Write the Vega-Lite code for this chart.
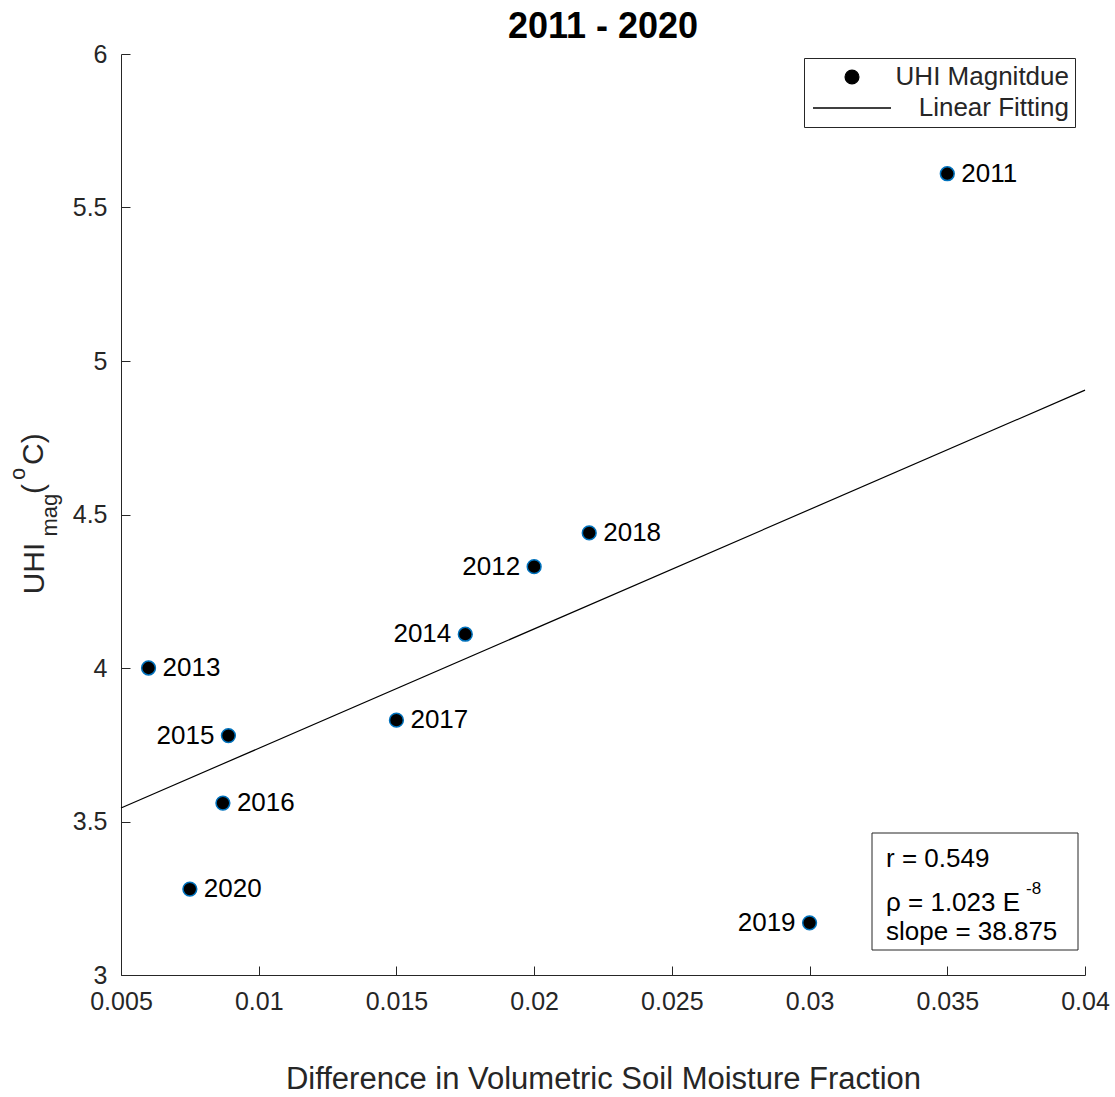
{
  "$schema": "https://vega.github.io/schema/vega-lite/v6.json",
  "width": 964,
  "height": 921,
  "autosize": {"type": "none"},
  "padding": {"left": 121, "top": 54, "right": 30, "bottom": 122},
  "background": "white",
  "title": {
    "text": "2011 - 2020",
    "font": "Liberation Sans",
    "fontSize": 36,
    "fontWeight": "bold",
    "color": "#000000",
    "anchor": "middle",
    "offset": -4
  },
  "config": {
    "view": {"stroke": null},
    "font": "Liberation Sans",
    "axis": {
      "grid": false,
      "domainColor": "#262626",
      "domainWidth": 1,
      "tickColor": "#262626",
      "tickWidth": 1,
      "tickSize": -9,
      "labelFont": "Liberation Sans",
      "labelFontSize": 25,
      "labelColor": "#262626",
      "labelFlush": false,
      "labelOverlap": false,
      "titleFont": "Liberation Sans",
      "titleFontSize": 30,
      "titleFontWeight": "normal",
      "titleColor": "#262626"
    }
  },
  "datasets": {
    "uhi": [
      {"year": "2011", "dsm": 0.0350, "uhi": 5.61},
      {"year": "2012", "dsm": 0.0200, "uhi": 4.33},
      {"year": "2013", "dsm": 0.0060, "uhi": 4.00},
      {"year": "2014", "dsm": 0.0175, "uhi": 4.11},
      {"year": "2015", "dsm": 0.0089, "uhi": 3.78},
      {"year": "2016", "dsm": 0.0087, "uhi": 3.56},
      {"year": "2017", "dsm": 0.0150, "uhi": 3.83},
      {"year": "2018", "dsm": 0.0220, "uhi": 4.44},
      {"year": "2019", "dsm": 0.0300, "uhi": 3.17},
      {"year": "2020", "dsm": 0.0075, "uhi": 3.28}
    ],
    "fit": [
      {"dsm": 0.005, "uhi": 3.544},
      {"dsm": 0.040, "uhi": 4.905}
    ],
    "one": [{}]
  },
  "layer": [
    {
      "data": {"name": "fit"},
      "mark": {"type": "line", "strokeWidth": 1.2, "color": "#000000"},
      "encoding": {
        "x": {
          "field": "dsm",
          "type": "quantitative",
          "scale": {"domain": [0.005, 0.04], "nice": false, "zero": false},
          "axis": {
            "title": "Difference in Volumetric Soil Moisture Fraction",
            "titleFontSize": 31,
            "values": [0.005, 0.01, 0.015, 0.02, 0.025, 0.03, 0.035, 0.04],
            "format": ".3~f",
            "labelPadding": 23,
            "titlePadding": 50
          }
        },
        "y": {
          "field": "uhi",
          "type": "quantitative",
          "scale": {"domain": [3, 6], "nice": false, "zero": false},
          "axis": {
            "title": "UHI",
            "values": [3, 3.5, 4, 4.5, 5, 5.5, 6],
            "format": ".1~f",
            "labelPadding": 23,
            "titleX": -78,
            "titleY": 514,
            "titleAngle": 270,
            "titleAlign": "center",
            "titleBaseline": "alphabetic"
          }
        },
        "color": {
          "datum": "Linear Fitting",
          "type": "nominal",
          "scale": {"domain": ["UHI Magnitdue", "Linear Fitting"], "range": ["#000000", "#000000"]},
          "legend": {
            "title": null,
            "orient": "none",
            "legendX": 683,
            "legendY": 4,
            "padding": 6,
            "strokeColor": "#262626",
            "fillColor": "#ffffff",
            "cornerRadius": 0,
            "labelFont": "Liberation Sans",
            "labelFontSize": 26,
            "labelColor": "#262626",
            "labelAlign": "right",
            "labelOffset": 204,
            "labelLimit": 400,
            "symbolOffset": 29,
            "rowPadding": 5,
            "encode": {
              "symbols": {
                "update": {
                  "shape": {"signal": "datum.value === 'Linear Fitting' ? 'stroke' : 'circle'"},
                  "size": {"signal": "datum.value === 'Linear Fitting' ? 6084 : 190"},
                  "fill": {"signal": "datum.value === 'Linear Fitting' ? 'transparent' : '#000000'"},
                  "stroke": {"signal": "datum.value === 'Linear Fitting' ? '#262626' : '#0072BD'"},
                  "strokeWidth": {"value": 1.3},
                  "opacity": {"value": 1}
                }
              }
            }
          }
        }
      }
    },
    {
      "data": {"name": "uhi"},
      "mark": {"type": "point", "filled": true, "size": 190, "stroke": "#0072BD", "strokeWidth": 1.5, "opacity": 1},
      "encoding": {
        "x": {"field": "dsm", "type": "quantitative"},
        "y": {"field": "uhi", "type": "quantitative"},
        "color": {"datum": "UHI Magnitdue", "type": "nominal"}
      }
    },
    {
      "data": {"name": "uhi"},
      "transform": [{"filter": {"not": {"field": "year", "oneOf": ["2012", "2014", "2015", "2019"]}}}],
      "mark": {"type": "text", "align": "left", "baseline": "middle", "dx": 14, "fontSize": 26, "color": "#000000"},
      "encoding": {
        "x": {"field": "dsm", "type": "quantitative"},
        "y": {"field": "uhi", "type": "quantitative"},
        "text": {"field": "year", "type": "nominal"}
      }
    },
    {
      "data": {"name": "uhi"},
      "transform": [{"filter": {"field": "year", "oneOf": ["2012", "2014", "2015", "2019"]}}],
      "mark": {"type": "text", "align": "right", "baseline": "middle", "dx": -14, "fontSize": 26, "color": "#000000"},
      "encoding": {
        "x": {"field": "dsm", "type": "quantitative"},
        "y": {"field": "uhi", "type": "quantitative"},
        "text": {"field": "year", "type": "nominal"}
      }
    },
    {
      "data": {"name": "one"},
      "mark": {"type": "rect", "fill": "#ffffff", "stroke": "#262626", "strokeWidth": 1},
      "encoding": {
        "x": {"datum": 0.032267, "type": "quantitative", "scale": {"domain": [0.005, 0.04]}},
        "x2": {"datum": 0.039746},
        "y": {"datum": 3.4625, "type": "quantitative", "scale": {"domain": [3, 6]}},
        "y2": {"datum": 3.0814}
      }
    },
    {
      "data": {"name": "one"},
      "mark": {"type": "text", "text": "r = 0.549", "align": "left", "baseline": "middle", "fontSize": 26, "color": "#000000"},
      "encoding": {
        "x": {"datum": 0.032775, "type": "quantitative", "scale": {"domain": [0.005, 0.04]}},
        "y": {"datum": 3.378, "type": "quantitative", "scale": {"domain": [3, 6]}}
      }
    },
    {
      "data": {"name": "one"},
      "mark": {"type": "text", "text": "ρ = 1.023 E", "align": "left", "baseline": "middle", "fontSize": 26, "color": "#000000"},
      "encoding": {
        "x": {"datum": 0.032775, "type": "quantitative", "scale": {"domain": [0.005, 0.04]}},
        "y": {"datum": 3.2345, "type": "quantitative", "scale": {"domain": [3, 6]}}
      }
    },
    {
      "data": {"name": "one"},
      "mark": {"type": "text", "text": "-8", "align": "left", "baseline": "middle", "fontSize": 17, "color": "#000000"},
      "encoding": {
        "x": {"datum": 0.037858, "type": "quantitative", "scale": {"domain": [0.005, 0.04]}},
        "y": {"datum": 3.280, "type": "quantitative", "scale": {"domain": [3, 6]}}
      }
    },
    {
      "data": {"name": "one"},
      "mark": {"type": "text", "text": "slope = 38.875", "align": "left", "baseline": "middle", "fontSize": 26, "color": "#000000"},
      "encoding": {
        "x": {"datum": 0.032775, "type": "quantitative", "scale": {"domain": [0.005, 0.04]}},
        "y": {"datum": 3.140, "type": "quantitative", "scale": {"domain": [3, 6]}}
      }
    },
    {
      "data": {"name": "one"},
      "mark": {"type": "text", "text": "mag", "angle": 270, "align": "center", "baseline": "alphabetic", "fontSize": 22, "color": "#262626"},
      "encoding": {
        "x": {"datum": 0.002676, "type": "quantitative", "scale": {"domain": [0.005, 0.04]}},
        "y": {"datum": 4.498, "type": "quantitative", "scale": {"domain": [3, 6]}}
      }
    },
    {
      "data": {"name": "one"},
      "mark": {"type": "text", "text": "(", "angle": 270, "align": "center", "baseline": "alphabetic", "fontSize": 30, "color": "#262626"},
      "encoding": {
        "x": {"datum": 0.002168, "type": "quantitative", "scale": {"domain": [0.005, 0.04]}},
        "y": {"datum": 4.583, "type": "quantitative", "scale": {"domain": [3, 6]}}
      }
    },
    {
      "data": {"name": "one"},
      "mark": {"type": "text", "text": "o", "angle": 270, "align": "center", "baseline": "alphabetic", "fontSize": 22, "color": "#262626"},
      "encoding": {
        "x": {"datum": 0.001514, "type": "quantitative", "scale": {"domain": [0.005, 0.04]}},
        "y": {"datum": 4.632, "type": "quantitative", "scale": {"domain": [3, 6]}}
      }
    },
    {
      "data": {"name": "one"},
      "mark": {"type": "text", "text": "C)", "angle": 270, "align": "center", "baseline": "alphabetic", "fontSize": 30, "color": "#262626"},
      "encoding": {
        "x": {"datum": 0.002168, "type": "quantitative", "scale": {"domain": [0.005, 0.04]}},
        "y": {"datum": 4.713, "type": "quantitative", "scale": {"domain": [3, 6]}}
      }
    }
  ]
}
